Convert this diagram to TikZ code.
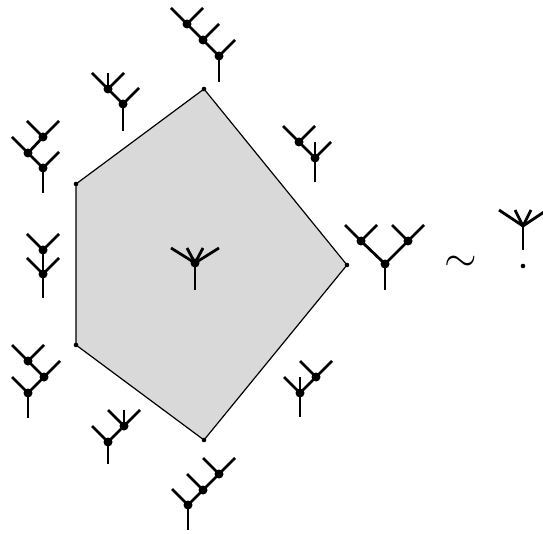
\documentclass[tikz,border=0pt]{standalone}
\usepackage{tikz}
\usetikzlibrary{calc}
\tikzset{
  edge/.style={line width=2.8pt, line cap=butt},
  vtx/.style={circle, fill=black, inner sep=0pt, minimum size=9pt},
  corner/.style={circle, fill=black, inner sep=0pt, minimum size=4.6pt},
  face/.style={draw=black, fill=gray!30, line width=1.2pt, line join=round},
}
% leaves from a vertex, given as offsets
\newcommand{\Sprout}[2]{%
  \foreach \dx/\dy in {#2} {
    \draw[edge] (#1.center) -- ++(\dx,\dy);
  }
}
% root stem below a vertex
\newcommand{\Stem}[2]{\draw[edge] (#1.center) -- ++(0,#2);}

\begin{document}
\begin{tikzpicture}[x=1pt, y=-1pt]
  \useasboundingbox (0,0) rectangle (543,534);

  % the pentagon
  \coordinate (ptop) at (204,89);
  \coordinate (pright) at (347,265);
  \coordinate (pbot) at (204,440);
  \coordinate (plb) at (76,345);
  \coordinate (plt) at (76,184);
  \draw[face] (ptop) -- (pright) -- (pbot) -- (plb) -- (plt) -- cycle;
  \foreach \p in {ptop,pright,pbot,plb,plt}
    \node[corner] at (\p) {};

  % top vertex: ((ab)c)d
  \node[vtx] (ar) at (219,56) {};
  \node[vtx] (am) at (203,40) {};
  \node[vtx] (al) at (187,24) {};
  \Stem{ar}{26}
  \draw[edge] (ar.center) -- (am.center) -- (al.center);
  \Sprout{ar}{16/-16}
  \Sprout{am}{16/-16}
  \Sprout{al}{-16/-16,16/-16}

  % top-right edge: (ab)cd
  \node[vtx] (br) at (315,158) {};
  \node[vtx] (bl) at (299,142) {};
  \Stem{br}{24}
  \draw[edge] (br.center) -- (bl.center);
  \Sprout{br}{0/-16,16/-16}
  \Sprout{bl}{-16/-16,16/-16}

  % right vertex: (ab)(cd)
  \node[vtx] (cr) at (385,264) {};
  \node[vtx] (cl) at (361,241) {};
  \node[vtx] (cm) at (408,241) {};
  \Stem{cr}{26}
  \draw[edge] (cl.center) -- (cr.center) -- (cm.center);
  \Sprout{cl}{-16/-16,16/-16}
  \Sprout{cm}{-16/-16,16/-16}

  % bottom-right edge: ab(cd)
  \node[vtx] (dr) at (300,393) {};
  \node[vtx] (dm) at (316,377) {};
  \Stem{dr}{24}
  \draw[edge] (dr.center) -- (dm.center);
  \Sprout{dr}{-16/-16,0/-16}
  \Sprout{dm}{-16/-16,16/-16}

  % bottom vertex: a(b(cd))
  \node[vtx] (er) at (188,505) {};
  \node[vtx] (em) at (203,490) {};
  \node[vtx] (el) at (219,474) {};
  \Stem{er}{25}
  \draw[edge] (er.center) -- (em.center) -- (el.center);
  \Sprout{er}{-16/-16}
  \Sprout{em}{-16/-16}
  \Sprout{el}{-16/-16,16/-16}

  % bottom-left edge: a(bcd)
  \node[vtx] (fr) at (108,442) {};
  \node[vtx] (fm) at (124,426) {};
  \Stem{fr}{22}
  \draw[edge] (fr.center) -- (fm.center);
  \Sprout{fr}{-16/-16}
  \Sprout{fm}{-16/-16,0/-16,16/-16}

  % left-bottom vertex: a((bc)d)
  \node[vtx] (gr) at (28,393) {};
  \node[vtx] (gm) at (44,377) {};
  \node[vtx] (gl) at (28,361) {};
  \Stem{gr}{25}
  \draw[edge] (gr.center) -- (gm.center) -- (gl.center);
  \Sprout{gr}{-16/-16}
  \Sprout{gm}{16/-16}
  \Sprout{gl}{-16/-16,16/-16}

  % left edge: a(bc)d
  \node[vtx] (hr) at (43,274) {};
  \node[vtx] (hm) at (43,250) {};
  \Stem{hr}{24}
  \draw[edge] (hr.center) -- (hm.center);
  \Sprout{hr}{-16/-16,16/-16}
  \Sprout{hm}{-16/-16,16/-16}

  % left-top vertex: (a(bc))d
  \node[vtx] (ir) at (43,168) {};
  \node[vtx] (im) at (28,153) {};
  \node[vtx] (il) at (43,137) {};
  \Stem{ir}{25}
  \draw[edge] (ir.center) -- (im.center) -- (il.center);
  \Sprout{ir}{16/-16}
  \Sprout{im}{-16/-16}
  \Sprout{il}{-16/-16,16/-16}

  % top-left edge: (abc)d
  \node[vtx] (jr) at (123,104) {};
  \node[vtx] (jm) at (108,89) {};
  \Stem{jr}{27}
  \draw[edge] (jr.center) -- (jm.center);
  \Sprout{jr}{16/-16}
  \Sprout{jm}{-16/-16,0/-16,16/-16}

  % the face: corolla
  \node[vtx] (kr) at (195,263) {};
  \Stem{kr}{27}
  \Sprout{kr}{-24/-15,-8/-15,8/-15,24/-15}

  % the equivalence
  \node[inner sep=0pt] (sim) at (461,264) {\scalebox{4.2}{$\sim$}};
  \coordinate (lr) at (523,226);
  \Stem{lr}{24}
  \Sprout{lr}{-24/-16,-8/-16,8/-16,24/-16}
  \node[corner] (pt) at (523,266) {};
\end{tikzpicture}
\end{document}
